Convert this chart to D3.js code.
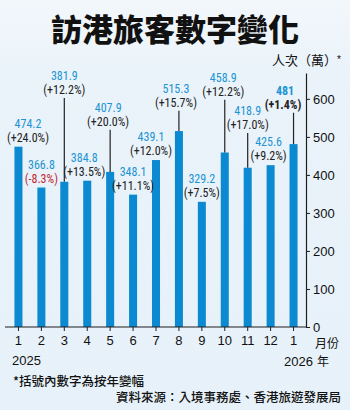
<!DOCTYPE html>
<html>
<head>
<meta charset="utf-8">
<script src="https://cdn.jsdelivr.net/npm/d3@7"></script>
<style>
    html, body { margin: 0; padding: 0; }
    body { width: 350px; height: 410px; overflow: hidden; background: #e9f2f9; }
    svg { display: block; }
</style>
</head>
<body>
<div id="chart"></div>
<script>
// ===========================
// 訪港旅客數字變化
// Monthly visitor arrivals, Jan 2025 – Jan 2026
// ===========================

const months = ['1', '2', '3', '4', '5', '6', '7', '8', '9', '10', '11', '12', '1'];
const visitors = [474.2, 366.8, 381.9, 384.8, 407.9, 348.1, 439.1, 515.3, 329.2, 458.9, 418.9, 425.6, 481];
const yoyChange = ['+24.0%', '-8.3%', '+12.2%', '+13.5%', '+20.0%', '+11.1%', '+12.0%', '+15.7%', '+7.5%', '+12.2%', '+17.0%', '+9.2%', '+1.4%'];
const yTicks = [0, 100, 200, 300, 400, 500, 600];

// label placement: raised labels sit at this level (萬) with a leader line
const labelLevel = [null, null, 613, null, 529, null, null, 579, null, 608, 521, null, 574];
const labelShift = [9.5, 0, 0, -3, -2, 0, -5, -3, 0, -1.5, 0, -2, -8.5];

const width = 350, height = 410;
const colors = {
    bar: '#0b89d1',
    value: '#2193d3',
    pct: '#222',
    neg: '#c3262f',
    axis: '#1e1e1e'
};
const numFont = '"Liberation Sans Narrow", "Arial Narrow", "Roboto Condensed", sans-serif';
const cjkFont = '"Noto Sans CJK TC", "Noto Sans CJK SC", sans-serif';
const tickFont = '"Liberation Sans", Arial, sans-serif';

const svg = d3.select('#chart')
    .append('svg')
    .attr('width', width)
    .attr('height', height);

const grad = svg.append('defs').append('linearGradient')
    .attr('id', 'bg')
    .attr('x1', 0).attr('y1', 0).attr('x2', 0).attr('y2', 1);
grad.append('stop').attr('offset', '0%').attr('stop-color', '#f2f7fb');
grad.append('stop').attr('offset', '18%').attr('stop-color', '#eaf3fa');
grad.append('stop').attr('offset', '100%').attr('stop-color', '#e7f1f9');

svg.append('rect')
    .attr('width', width)
    .attr('height', height)
    .attr('fill', 'url(#bg)');

// title
svg.append('text')
    .attr('x', 175)
    .attr('y', 41)
    .attr('text-anchor', 'middle')
    .style('font-family', cjkFont)
    .style('font-size', '31px')
    .style('font-weight', '900')
    .style('fill', '#111')
    .text('訪港旅客數字變化');

const x = d3.scaleBand()
    .domain(d3.range(months.length))
    .range([7, 305])
    .paddingInner(0.65)
    .paddingOuter(0.325);

const y = d3.scaleLinear()
    .domain([0, 668])
    .range([327, 73]);

const axisX = 306;

// bars
svg.selectAll('.bar')
    .data(visitors)
    .join('rect')
    .attr('class', 'bar')
    .attr('x', (d, i) => x(i))
    .attr('y', d => y(d))
    .attr('width', x.bandwidth())
    .attr('height', d => y(0) - y(d))
    .attr('fill', colors.bar);

// x axis
const gx = svg.append('g')
    .attr('transform', `translate(0,${y(0)})`)
    .call(d3.axisBottom(x).tickSize(4).tickSizeOuter(0).tickFormat(i => months[i]));
gx.select('.domain').remove();
gx.selectAll('line').attr('stroke', colors.axis);
gx.selectAll('text')
    .attr('y', 9)
    .style('font-family', tickFont)
    .style('font-size', '13px')
    .style('fill', '#111');

svg.append('line')
    .attr('x1', 5).attr('x2', axisX)
    .attr('y1', y(0)).attr('y2', y(0))
    .attr('stroke', colors.axis)
    .attr('stroke-width', 1.2);

// y axis on the right
const gy = svg.append('g')
    .attr('transform', `translate(${axisX},0)`)
    .call(d3.axisRight(y).tickValues(yTicks).tickSize(4).tickSizeOuter(0));
gy.select('.domain').attr('stroke', colors.axis).attr('stroke-width', 1.2);
gy.selectAll('line').attr('stroke', colors.axis);
gy.selectAll('text')
    .attr('x', 7)
    .style('font-family', tickFont)
    .style('font-size', '13px')
    .style('fill', '#111');

// unit label
svg.append('text')
    .attr('x', 272)
    .attr('y', 65)
    .style('font-family', cjkFont)
    .style('font-size', '13px')
    .style('fill', '#111')
    .text('人次（萬）');
svg.append('text')
    .attr('x', 337)
    .attr('y', 63)
    .style('font-family', tickFont)
    .style('font-size', '10px')
    .style('fill', '#111')
    .text('*');

// value labels
const labels = svg.selectAll('.label')
    .data(visitors.map((v, i) => ({
        v, i,
        pct: yoyChange[i],
        level: labelLevel[i],
        dx: labelShift[i]
    })))
    .join('g')
    .attr('class', 'label');

labels.each(function(d) {
    const g = d3.select(this);
    const cx = x(d.i) + x.bandwidth() / 2;
    const pctY = d.level === null ? y(d.v) - 5 : y(d.level);
    const bold = d.i === visitors.length - 1;

    if (d.level !== null) {
        g.append('line')
            .attr('x1', cx).attr('x2', cx)
            .attr('y1', pctY + 4)
            .attr('y2', y(d.v))
            .attr('stroke', '#222')
            .attr('stroke-width', 1.2);
    }

    g.append('text')
        .attr('x', cx + d.dx)
        .attr('y', pctY - 14)
        .attr('text-anchor', 'middle')
        .style('font-family', numFont)
        .style('font-size', '12px')
        .style('font-weight', bold ? '700' : '400')
        .style('fill', colors.value)
        .text(d.v);

    g.append('text')
        .attr('x', cx + d.dx - (bold ? 2 : 0))
        .attr('y', pctY)
        .attr('text-anchor', 'middle')
        .style('font-family', numFont)
        .style('font-size', '12px')
        .style('font-weight', bold ? '700' : '400')
        .style('fill', d.pct.startsWith('-') ? colors.neg : colors.pct)
        .text(`(${d.pct})`);
});

// x axis captions
svg.append('text')
    .attr('x', 315).attr('y', 347.5)
    .style('font-family', cjkFont)
    .style('font-size', '12px')
    .style('fill', '#111')
    .text('月份');

svg.append('text')
    .attr('x', 12).attr('y', 365)
    .style('font-family', tickFont)
    .style('font-size', '13px')
    .style('fill', '#111')
    .text('2025');

svg.append('text')
    .attr('x', 284).attr('y', 366)
    .style('font-family', tickFont)
    .style('font-size', '13px')
    .style('fill', '#111')
    .text('2026')
    .append('tspan')
    .attr('dx', 4)
    .style('font-family', cjkFont)
    .style('font-size', '12px')
    .text('年');

// footnotes
svg.append('text')
    .attr('x', 13).attr('y', 386)
    .style('font-family', cjkFont)
    .style('font-size', '12.5px')
    .style('font-weight', '500')
    .style('fill', '#111')
    .text('*括號內數字為按年變幅');

svg.append('text')
    .attr('x', 341).attr('y', 402)
    .attr('text-anchor', 'end')
    .style('font-family', cjkFont)
    .style('font-size', '12.5px')
    .style('font-weight', '500')
    .style('fill', '#111')
    .text('資料來源：入境事務處、香港旅遊發展局');
</script>
</body>
</html>
